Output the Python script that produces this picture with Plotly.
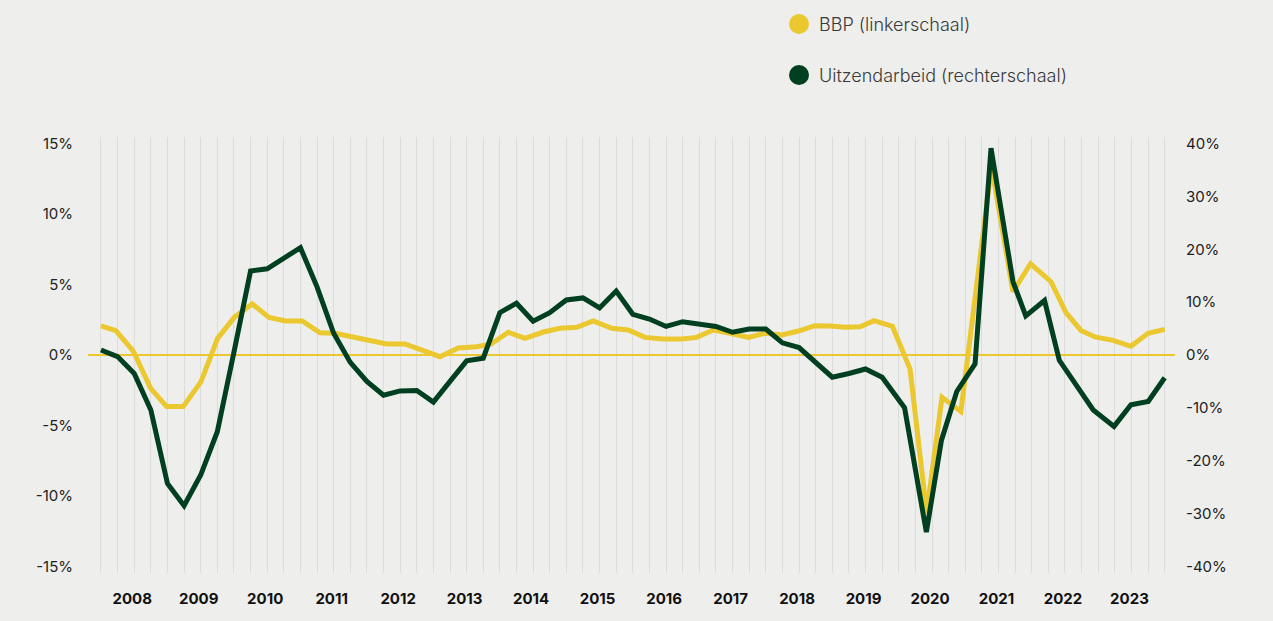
import plotly.graph_objects as go

# ---------------- data ----------------
years = list(range(2008, 2024))
year_labels = [str(y) for y in years]

# BBP (left scale, %) - x in quarter-index units (0 = 2008 Q1)
bbp_x = [0, 0.90, 1.94, 2.99, 3.95, 4.95, 6.02, 7.02, 8.02, 9.10,
         10.11, 11.11, 12.11, 13.18, 14.08, 15.18, 16.19, 17.19, 18.29, 19.25,
         20.40, 21.50, 22.61, 23.47, 24.51, 25.51, 26.61, 27.62, 28.62, 29.62,
         30.73, 31.73, 32.73, 33.83, 34.94, 35.84, 36.84, 37.85, 38.95, 39.95,
         40.96, 41.96, 42.96, 43.86, 44.77, 45.67, 46.51, 47.62, 48.68, 49.68,
         50.60, 51.74, 52.65, 53.58, 54.87, 55.93, 57.16, 58.06, 58.96, 59.81,
         60.89, 61.97, 63.0, 64.0]
bbp = [2.06, 1.73, 0.28, -2.36, -3.66, -3.66, -1.89, 1.18, 2.67, 3.62,
       2.67, 2.41, 2.41, 1.58, 1.54, 1.30, 1.01, 0.78, 0.78, 0.38,
       -0.12, 0.50, 0.59, 0.78, 1.61, 1.18, 1.63, 1.89, 1.96, 2.41,
       1.89, 1.77, 1.25, 1.13, 1.13, 1.25, 1.77, 1.54, 1.25, 1.54,
       1.42, 1.70, 2.08, 2.05, 1.96, 2.00, 2.43, 2.03, -1.00, -11.2,
       -3.00, -4.00, 4.70, 13.4, 4.49, 6.47, 5.20, 3.00, 1.74, 1.28,
       1.04, 0.62, 1.54, 1.82]

# Uitzendarbeid (right scale, %)
uitz_x = list(range(0, 48)) + [48.35, 49.66, 50.57, 51.49, 52.59, 53.55, 54.87,
                               55.64, 56.77, 57.66, 58.66, 59.70, 60.95, 61.97,
                               63.01, 64.0]
uitz = [0.95, -0.3, -3.5, -10.4, -24.3, -28.5, -22.7, -14.5, 0.5, 15.9,
        16.3, 18.3, 20.3, 12.9, 4.1, -1.4, -5.0, -7.6, -6.8, -6.7,
        -8.9, -5.0, -1.1, -0.6, 8.0, 9.8, 6.4, 8.0, 10.4, 10.8,
        8.9, 12.1, 7.7, 6.8, 5.4, 6.3, 5.8, 5.4, 4.3, 4.9,
        4.9, 2.3, 1.4, -1.4, -4.2, -3.5, -2.65, -4.2,
        -10.0, -33.5, -16.1, -6.9, -1.7, 39.1, 13.9, 7.4, 10.3, -1.0,
        -5.7, -10.4, -13.5, -9.4, -8.8, -4.3]

left_ticks = [-15, -10, -5, 0, 5, 10, 15]
left_labels = ["-15%", "-10%", "-5%", "0%", "5%", "10%", "15%"]
right_ticks = [-40, -30, -20, -10, 0, 10, 20, 30, 40]
right_labels = ["-40%", "-30%", "-20%", "-10%", "0%", "10%", "20%", "30%", "40%"]

series_names = ["BBP (linkerschaal)", "Uitzendarbeid (rechterschaal)"]

# ---------------- style ----------------
BG = "#eeeeec"
YELLOW = "#ebc82f"
GREEN = "#003f1f"
GRID = "#dcdcda"
FONT = "Inter, 'Noto Sans', sans-serif"

year_pos = [4 * (y - years[0]) + 1.88 for y in years]

fig = go.Figure()
fig.add_trace(go.Scatter(x=bbp_x, y=bbp, mode="lines", name=series_names[0],
                         line=dict(color=YELLOW, width=5), showlegend=False,
                         yaxis="y"))
fig.add_trace(go.Scatter(x=uitz_x, y=uitz, mode="lines", name=series_names[1],
                         line=dict(color=GREEN, width=5), showlegend=False,
                         yaxis="y2"))

# legend (circles + text)
L, R, T, B = 88, 98, 137, 48
W, H = 1273, 621
pw, ph = W - L - R, H - T - B

def px_to_paper(xp, yp):
    return (xp - L) / pw, (H - B - yp) / ph

for name, color, ypix in [(series_names[0], YELLOW, 24), (series_names[1], GREEN, 75)]:
    cx, cy = px_to_paper(799, ypix)
    fig.add_shape(type="circle", xref="paper", yref="paper",
                  xsizemode="pixel", ysizemode="pixel",
                  xanchor=cx, yanchor=cy, x0=-10, x1=10, y0=-10, y1=10,
                  fillcolor=color, line=dict(width=0))
    tx, ty = px_to_paper(817, ypix)
    fig.add_annotation(x=tx, y=ty, xref="paper", yref="paper", text=name,
                       showarrow=False, xanchor="left", yanchor="middle",
                       font=dict(family=FONT, size=18, color="#3a3a3a",
                                 weight=300))

fig.update_layout(
    width=W, height=H,
    margin=dict(l=L, r=R, t=T, b=B, pad=0),
    paper_bgcolor=BG, plot_bgcolor=BG,
    font=dict(family=FONT, size=15, color="#222222"),
    showlegend=False,
    xaxis=dict(
        range=[-0.78, 64.62], showgrid=False, zeroline=False, showline=False,
        tickmode="array", tickvals=year_pos, ticktext=year_labels, ticks="",
        tickfont=dict(family=FONT, size=15, color="#111111", weight="bold"),
        ticklabelstandoff=15,
        minor=dict(tickmode="linear", tick0=0, dtick=1, showgrid=True,
                   gridcolor=GRID, gridwidth=1, ticks=""),
    ),
    yaxis=dict(
        range=[-15.46, 15.46], tickmode="array", tickvals=left_ticks,
        ticktext=left_labels, showgrid=False, zeroline=True,
        zerolinecolor=YELLOW, zerolinewidth=2, showline=False, ticks="",
        ticklabelstandoff=14,
        tickfont=dict(family=FONT, size=15, color="#222222"),
    ),
    yaxis2=dict(
        range=[-41.23, 41.23], overlaying="y", side="right", tickmode="array",
        tickvals=right_ticks, ticktext=right_labels, showgrid=False,
        zeroline=False, showline=False, ticks="", ticklabelstandoff=10,
        tickfont=dict(family=FONT, size=15, color="#222222"),
    ),
)

fig.write_html("out.html",
               config={"displayModeBar": False},
               post_script="document.body.style.margin='0';"
                           "document.body.style.background='#eeeeec';")
